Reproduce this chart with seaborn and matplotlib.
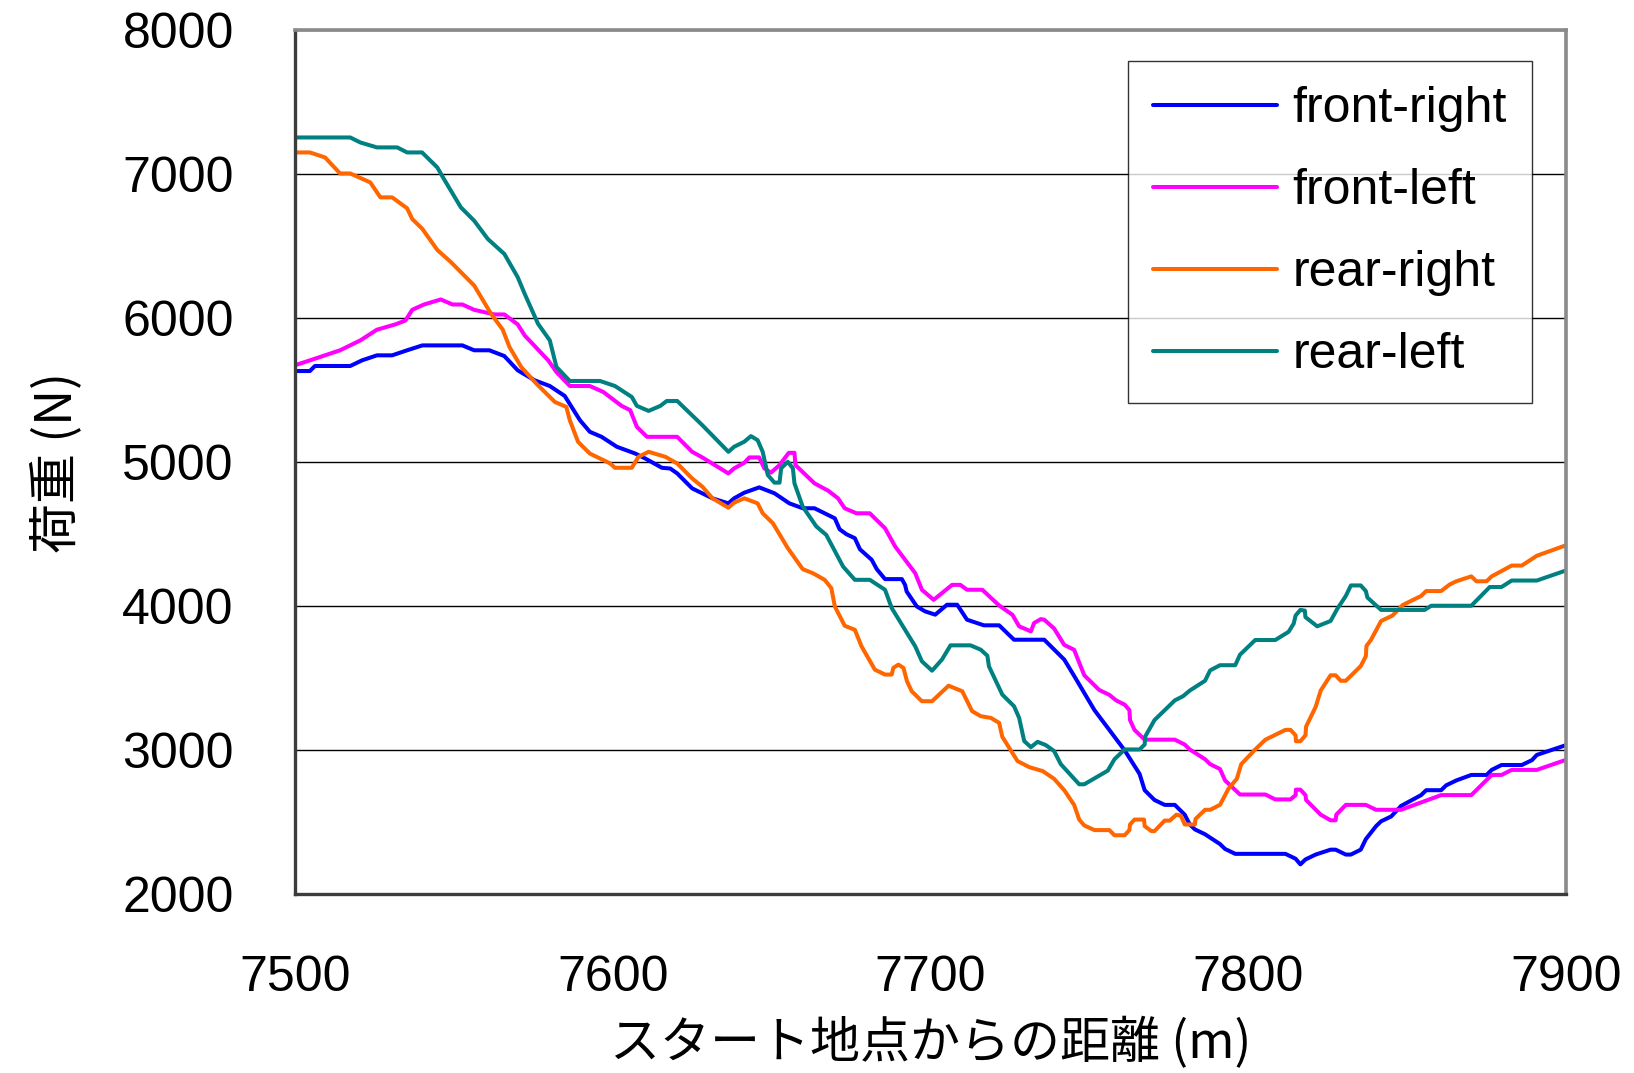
import numpy as np
import pandas as pd
import matplotlib
matplotlib.use("Agg")
import matplotlib.pyplot as plt
import seaborn as sns

# Distance from start (m) and load (N) for each wheel
fr_x = [7500, 7504.7, 7506.3, 7517.4, 7521.1, 7525.8, 7530.6, 7535.3, 7540.1, 7552.7, 7556.4, 7561.2,
        7565.9, 7570.1, 7575.4, 7580.2, 7584.9, 7589.7, 7592.8, 7596.5, 7601.3, 7607.1, 7610.2, 7615.5,
        7618.1, 7620.3, 7625, 7631.4, 7636.4, 7638.2, 7641.4, 7646.1, 7650.9, 7655.6, 7659.8, 7663.5,
        7669.9, 7671.4, 7673.6, 7676.2, 7677.8, 7681.5, 7683.1, 7685.7, 7691, 7692, 7692.5, 7695.7,
        7698.3, 7701.5, 7705.2, 7708.4, 7711.5, 7716.8, 7721.6, 7726.3, 7735.8, 7742.1, 7745.2, 7751.6,
        7761.1, 7765.8, 7767.4, 7770.5, 7773.7, 7776.9, 7780, 7781.6, 7783.2, 7786.4, 7791.1, 7792.7,
        7795.9, 7811.7, 7814.9, 7816.4, 7818, 7821.2, 7825.9, 7827.5, 7830.7, 7832.3, 7835.4, 7837,
        7840.2, 7841.8, 7845, 7848.1, 7854.4, 7856, 7860.7, 7862.3, 7865.5, 7870.2, 7875, 7876.6,
        7879.7, 7886.1, 7889.3, 7890.8, 7900]
fr_y = [5632, 5632, 5667, 5667, 5706, 5741, 5741, 5776, 5810, 5810, 5776, 5776,
        5736, 5637, 5568, 5528, 5459, 5290, 5210, 5175, 5106, 5059, 5025, 4960,
        4955, 4921, 4817, 4748, 4713, 4748, 4787, 4824, 4783, 4713, 4679, 4679,
        4609, 4533, 4498, 4471, 4394, 4321, 4256, 4187, 4187, 4147, 4101, 3997,
        3963, 3940, 4009, 4009, 3905, 3866, 3866, 3766, 3766, 3628, 3515, 3277,
        2998, 2834, 2721, 2653, 2619, 2619, 2551, 2483, 2449, 2415, 2347, 2313,
        2279, 2279, 2245, 2206, 2240, 2274, 2308, 2308, 2274, 2274, 2308, 2381,
        2471, 2505, 2539, 2612, 2687, 2721, 2721, 2755, 2789, 2827, 2827, 2862,
        2896, 2896, 2930, 2966, 3034]

fl_x = [7500, 7504.7, 7514.2, 7520.6, 7525.8, 7531.6, 7534.8, 7536.9, 7540.6, 7545.9, 7549.6, 7552.7,
        7556.4, 7562.8, 7565.9, 7570.1, 7572.3, 7579.7, 7582.3, 7586.5, 7592.8, 7597, 7602.8, 7605.5,
        7607.6, 7610.8, 7620.3, 7625, 7628.2, 7633, 7636.4, 7638.2, 7641.4, 7643, 7646.1, 7647.7,
        7649.8, 7652.5, 7655.4, 7657.2, 7657.5, 7663.5, 7667.8, 7670.9, 7673, 7676.7, 7680.9, 7685.7,
        7688.9, 7695.2, 7697.3, 7701, 7706.8, 7709.4, 7711.5, 7716.3, 7721.6, 7725.8, 7727.9, 7731.6,
        7732.6, 7734.7, 7735.8, 7738.9, 7742.1, 7745.2, 7748.4, 7753.1, 7756.3, 7758.4, 7761.1, 7762.6,
        7762.8, 7764.2, 7767.4, 7776.9, 7780, 7781.6, 7786.4, 7788, 7791.1, 7792.7, 7797.4, 7805.4,
        7808.5, 7813.3, 7814.9, 7815, 7816.4, 7818, 7818.2, 7822.8, 7825.9, 7827.5, 7827.7, 7830.7,
        7837, 7840.2, 7848.1, 7860.7, 7870.2, 7876.6, 7879.7, 7882.9, 7890.8, 7900]
fl_y = [5672, 5706, 5776, 5845, 5919, 5956, 5983, 6057, 6094, 6129, 6094, 6094,
        6057, 6025, 6025, 5956, 5879, 5706, 5625, 5528, 5528, 5487, 5390, 5360,
        5244, 5175, 5175, 5071, 5032, 4967, 4921, 4956, 4995, 5032, 5032, 4956,
        4926, 4979, 5064, 5064, 4979, 4852, 4801, 4748, 4679, 4644, 4644, 4540,
        4413, 4228, 4113, 4043, 4147, 4147, 4113, 4113, 4004, 3939, 3859, 3824,
        3882, 3909, 3905, 3844, 3730, 3696, 3519, 3417, 3383, 3345, 3315, 3277,
        3208, 3140, 3072, 3072, 3038, 3004, 2936, 2902, 2868, 2789, 2691, 2691,
        2657, 2657, 2687, 2725, 2725, 2687, 2653, 2551, 2512, 2512, 2551, 2619,
        2619, 2585, 2585, 2687, 2687, 2827, 2827, 2862, 2862, 2932]

rr_x = [7500, 7504.7, 7509.5, 7514.2, 7517.4, 7523.7, 7526.9, 7530.6, 7535.3, 7536.9, 7540.1, 7544.8,
        7549.1, 7556.4, 7561.7, 7565.4, 7567.5, 7571.2, 7576, 7581.8, 7585.4, 7586.5, 7589.1, 7592.8,
        7599.2, 7600.7, 7606, 7608.1, 7611.3, 7616.6, 7620.3, 7625, 7628.2, 7631.4, 7636.4, 7638.2,
        7641.4, 7645.6, 7647.2, 7650.4, 7655.1, 7659.8, 7663, 7666.7, 7668.8, 7669.9, 7673, 7676.2,
        7678.3, 7682.5, 7685.7, 7687.8, 7688.3, 7689.9, 7691.5, 7692.6, 7694.1, 7697.3, 7700.5, 7705.7,
        7710, 7713.1, 7715.8, 7719, 7721.6, 7722.6, 7727.4, 7731.1, 7735.3, 7738.9, 7742.1, 7745.2,
        7746.8, 7748.4, 7751.6, 7756.3, 7757.9, 7761.1, 7762.6, 7762.8, 7764.2, 7767.2, 7767.4, 7769.5,
        7770.5, 7773.7, 7775.3, 7777.4, 7778.8, 7780, 7783.2, 7783.4, 7786.4, 7788, 7791.1, 7793.8,
        7796.4, 7797.8, 7802.2, 7805.4, 7811.7, 7813.3, 7814.9, 7815, 7816.4, 7818, 7818.2, 7821.2,
        7822.8, 7825.9, 7827.5, 7829.1, 7830.7, 7835.4, 7837, 7837.2, 7838.6, 7841.8, 7845.4, 7848.6,
        7854.4, 7856, 7860.7, 7863.4, 7865.5, 7870.2, 7871.8, 7875, 7876.6, 7882.9, 7886.1, 7890.8,
        7900]
rr_y = [7150, 7150, 7115, 7004, 7004, 6942, 6838, 6838, 6762, 6688, 6619, 6473,
        6388, 6226, 6030, 5919, 5799, 5660, 5544, 5417, 5383, 5290, 5140, 5059,
        4990, 4960, 4960, 5036, 5071, 5036, 4990, 4886, 4829, 4748, 4683, 4718,
        4748, 4713, 4644, 4575, 4402, 4256, 4228, 4182, 4124, 3997, 3863, 3835,
        3720, 3558, 3524, 3524, 3570, 3593, 3570, 3478, 3408, 3339, 3339, 3447,
        3408, 3270, 3235, 3223, 3189, 3092, 2923, 2881, 2854, 2800, 2721, 2619,
        2517, 2476, 2444, 2444, 2408, 2408, 2444, 2483, 2517, 2517, 2472, 2437,
        2437, 2510, 2510, 2551, 2544, 2483, 2483, 2521, 2585, 2585, 2619, 2732,
        2800, 2902, 3004, 3072, 3140, 3140, 3102, 3061, 3061, 3102, 3163, 3299,
        3413, 3519, 3519, 3481, 3481, 3583, 3651, 3723, 3764, 3896, 3934, 4007,
        4070, 4104, 4104, 4150, 4172, 4206, 4172, 4172, 4206, 4281, 4281, 4349,
        4422]

rl_x = [7500, 7517.4, 7520.6, 7525.8, 7532.2, 7535.3, 7540, 7544.8, 7546.9, 7552.2, 7556.4, 7560.7,
        7565.9, 7570.1, 7572.3, 7576.5, 7580.2, 7582.3, 7586.5, 7596, 7600.7, 7606, 7607.6, 7611.3,
        7615, 7617, 7620.3, 7628.2, 7636.4, 7638.2, 7641.4, 7643.5, 7645.6, 7647.2, 7648.8, 7650.9,
        7652.5, 7653, 7655.1, 7656.7, 7657.2, 7659.8, 7664.1, 7667.2, 7672.5, 7676.2, 7680.9, 7685.7,
        7687.8, 7695.2, 7697.3, 7700.5, 7703.6, 7706.3, 7712.6, 7715.8, 7717.9, 7718.4, 7722.6, 7726.3,
        7727.9, 7729.5, 7731.6, 7733.7, 7736.3, 7738.9, 7741, 7746.8, 7748.4, 7755.8, 7757.9, 7761.1,
        7765.8, 7767.4, 7767.6, 7770.5, 7776.9, 7779.5, 7781.6, 7786.4, 7788, 7791.1, 7795.9, 7797.4,
        7802.2, 7808.5, 7812.7, 7814.3, 7814.9, 7816.4, 7817.8, 7818, 7821.7, 7825.9, 7828, 7830.7,
        7832.3, 7835.4, 7837, 7837.5, 7841.8, 7855.5, 7857.6, 7870.2, 7876, 7879.7, 7882.9, 7890.8,
        7900]
rl_y = [7254, 7254, 7219, 7185, 7185, 7150, 7150, 7046, 6965, 6769, 6676, 6549,
        6445, 6284, 6168, 5960, 5845, 5660, 5563, 5563, 5528, 5452, 5390, 5355,
        5390, 5424, 5424, 5256, 5071, 5106, 5141, 5180, 5152, 5071, 4910, 4857,
        4857, 4956, 5002, 4956, 4852, 4690, 4552, 4494, 4274, 4182, 4182, 4113,
        3986, 3720, 3616, 3551, 3628, 3727, 3727, 3697, 3655, 3581, 3385, 3304,
        3223, 3062, 3020, 3057, 3034, 2993, 2902, 2762, 2762, 2857, 2936, 3004,
        3004, 3038, 3095, 3208, 3345, 3374, 3413, 3481, 3553, 3589, 3589, 3662,
        3764, 3764, 3821, 3878, 3934, 3973, 3968, 3923, 3859, 3896, 3980, 4070,
        4143, 4143, 4104, 4059, 3973, 3973, 4002, 4002, 4132, 4132, 4177, 4177,
        4247]

series_names = ["front-right", "front-left", "rear-right", "rear-left"]
series_colors = ["#0000FF", "#FF00FF", "#FF6600", "#008080"]
y_ticks = [2000, 3000, 4000, 5000, 6000, 7000, 8000]
x_ticks = [7500, 7600, 7700, 7800, 7900]

frames = []
for name, xs, ys in zip(series_names, [fr_x, fl_x, rr_x, rl_x], [fr_y, fl_y, rr_y, rl_y]):
    frames.append(pd.DataFrame({"distance": xs, "load": ys, "wheel": name}))
df = pd.concat(frames, ignore_index=True)

sns.set_theme(style="white")
plt.rcParams["font.family"] = ["Liberation Sans", "Noto Sans CJK JP", "DejaVu Sans"]
plt.rcParams["text.color"] = "black"
plt.rcParams["axes.labelcolor"] = "black"

fig = plt.figure(figsize=(16.34, 10.73), dpi=100)
ax = fig.add_axes([0.1805, 0.1668, 0.7779, 0.8052])

sns.lineplot(data=df, x="distance", y="load", hue="wheel", hue_order=series_names,
             palette=dict(zip(series_names, series_colors)), estimator=None, sort=False,
             linewidth=2.9, ax=ax)

ax.set_xlim(7500, 7900)
ax.set_ylim(2000, 8000)
ax.set_xticks(x_ticks)
ax.set_yticks(y_ticks)
ax.set_xticklabels([str(t) for t in x_ticks])
ax.set_yticklabels([str(t) for t in y_ticks])
ax.yaxis.grid(True, color="black", linewidth=1.0)
ax.xaxis.grid(False)
ax.set_axisbelow(True)

ax.tick_params(axis="both", direction="in", length=11, width=1.0, color="black",
               labelsize=36, pad=44, labelcolor="black")
for side in ["left", "bottom"]:
    ax.spines[side].set_color("#3c3c3c")
    ax.spines[side].set_linewidth(2.4)
for side in ["top", "right"]:
    ax.spines[side].set_color("#8a8a8a")
    ax.spines[side].set_linewidth(2.6)

ax.set_xlabel("スタート地点からの距離 (m)", fontsize=36, labelpad=12, color="black",
              family=["Noto Sans CJK JP", "DejaVu Sans"])
ax.set_ylabel("荷重 (N)", fontsize=36, labelpad=28, color="black",
              family=["Noto Sans CJK JP", "DejaVu Sans"])

leg = ax.legend(loc="upper right", bbox_to_anchor=(0.9732, 0.9641), borderaxespad=0,
                fontsize=36, frameon=True, fancybox=False, handlelength=2.48,
                handletextpad=0.32, labelspacing=0.72, borderpad=0.5, title=None)
leg.get_frame().set_edgecolor("black")
leg.get_frame().set_linewidth(1.0)
for line in leg.get_lines():
    line.set_linewidth(2.9)
for text in leg.get_texts():
    text.set_color("black")

fig.savefig("out.png", dpi=100)
